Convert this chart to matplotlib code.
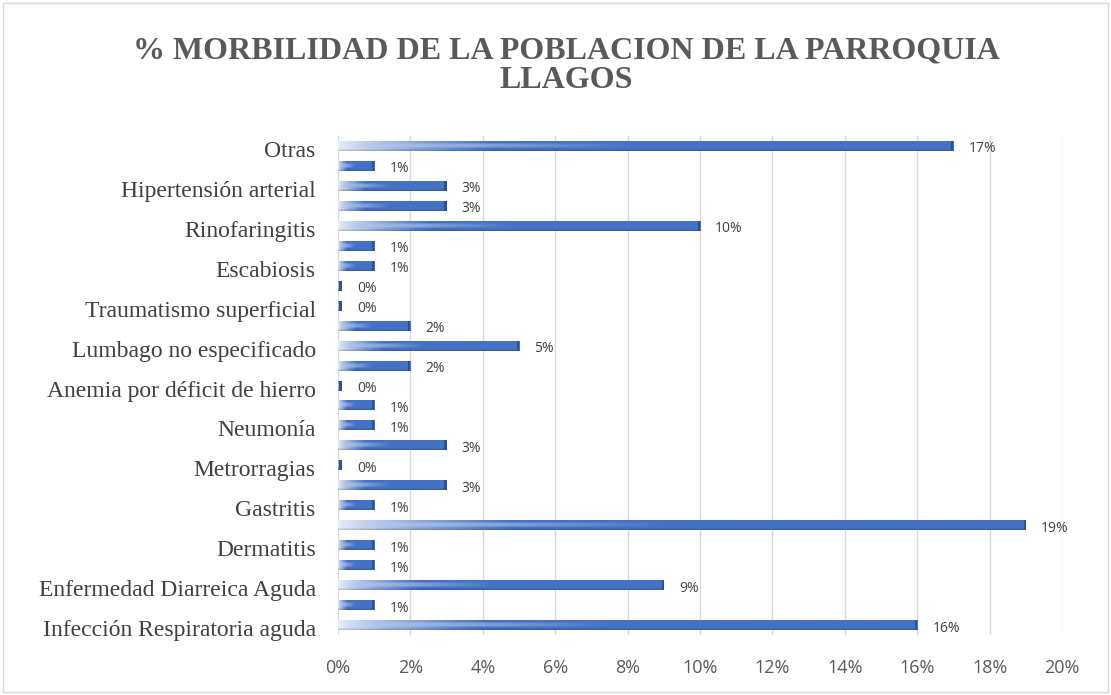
import numpy as np
import matplotlib.pyplot as plt
from matplotlib.patches import Rectangle
from matplotlib.ticker import PercentFormatter
import matplotlib.transforms as mtransforms

# categorias de abajo hacia arriba (Excel solo muestra una de cada dos)
categorias = ['Infección Respiratoria aguda', '', 'Enfermedad Diarreica Aguda', '',
              'Dermatitis', '', 'Gastritis', '', 'Metrorragias', '', 'Neumonía', '',
              'Anemia por déficit de hierro', '', 'Lumbago no especificado', '',
              'Traumatismo superficial', '', 'Escabiosis', '', 'Rinofaringitis', '',
              'Hipertensión arterial', '', 'Otras']
valores = [16, 1, 9, 1, 1, 19, 1, 3, 0.1, 3, 1, 1, 0.1, 2, 5, 2, 0.1, 0.1,
           1, 1, 10, 3, 3, 1, 17]
etiquetas = ['16%', '1%', '9%', '1%', '1%', '19%', '1%', '3%', '0%', '3%', '1%', '1%',
             '0%', '2%', '5%', '2%', '0%', '0%', '1%', '1%', '10%', '3%', '3%', '1%', '17%']
ticks_x = [0, 2, 4, 6, 8, 10, 12, 14, 16, 18, 20]

azul = np.array([68, 114, 196]) / 255
blanco = np.array([0.90, 0.93, 0.98])


def gradiente(n=200, m=20):
    u = np.linspace(0, 1, n)[None, :, None]
    s = np.linspace(1, 0, m)[:, None, None]
    w = np.clip((u / 0.25) ** 0.8, 0, 1)
    franja = ((s > 0.35) & (s < 0.75)).astype(float)
    wh = np.clip((u - 0.08) / 0.4, 0, 1)
    w = w * (1 - franja) + np.minimum(w, 0.35 + 0.65 * wh) * franja
    col = blanco * (1 - w) + azul * w
    # borde inferior un poco más oscuro
    osc = np.where(s < 0.15, 0.85, 1.0)
    col = col * osc
    return np.clip(col, 0, 1)


img = gradiente()

fig = plt.figure(figsize=(11.11, 6.95), dpi=100)
fig.patches.append(Rectangle((0.003, 0.004), 0.994, 0.992, transform=fig.transFigure,
                             fill=False, edgecolor='#D9D9D9', linewidth=1))
ax = fig.add_axes([0.3042, 0.0863, 0.6517, 0.718])

alto = 0.5
for i, v in enumerate(valores):
    ax.imshow(img, extent=[0, v, i - alto / 2, i + alto / 2], aspect='auto',
              interpolation='bilinear', zorder=3)
    ax.add_patch(Rectangle((v - 0.06, i - alto / 2), 0.06, alto,
                           facecolor='#2F528F', edgecolor='none', zorder=4))
    ax.text(v + 0.42, i - 0.15, etiquetas[i], va='center', ha='left',
            fontsize=10, color='#404040', family='Open Sans')

ax.set_xlim(0, 20)
ax.set_ylim(-0.5, len(valores) - 0.5)
ax.set_xticks(ticks_x)
ax.xaxis.set_major_formatter(PercentFormatter(decimals=0))
ax.set_yticks(range(len(categorias)))
ax.set_yticklabels(categorias, family='Liberation Serif', fontsize=17, color='#404040')
ax.tick_params(axis='x', labelsize=13, colors='#595959', length=0, pad=17)
ax.tick_params(axis='y', length=0, pad=16)
for lab in ax.get_xticklabels():
    lab.set_family('Open Sans')
desplaza = mtransforms.ScaledTranslation(0, -3 / 100, fig.dpi_scale_trans)
for lab in ax.get_yticklabels():
    lab.set_transform(lab.get_transform() + desplaza)
ax.grid(axis='x', color='#D9D9D9', linewidth=1, zorder=0)
ax.set_axisbelow(True)
for sp in ax.spines.values():
    sp.set_visible(False)

fig.text(0.51, 0.906, '% MORBILIDAD DE LA POBLACION DE LA PARROQUIA\nLLAGOS',
         ha='center', va='center', fontsize=23, fontweight='bold',
         family='Liberation Serif', color='#595959', linespacing=1.03)

fig.savefig('out.png', dpi=100)
